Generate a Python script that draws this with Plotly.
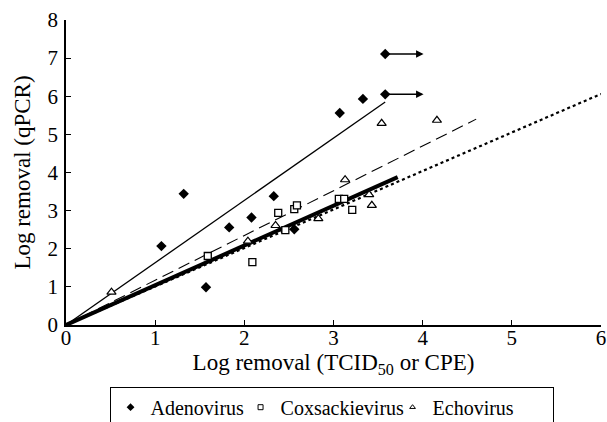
import plotly.graph_objects as go

# ---- data ----
adeno_x = [1.07, 1.32, 1.57, 1.83, 2.08, 2.33, 2.56, 3.07, 3.33, 3.58, 3.58]
adeno_y = [2.07, 3.44, 0.99, 2.56, 2.82, 3.38, 2.51, 5.56, 5.93, 6.05, 7.11]

coxs_x = [1.59, 2.09, 2.38, 2.46, 2.56, 2.59, 3.06, 3.12, 3.21]
coxs_y = [1.81, 1.65, 2.94, 2.49, 3.04, 3.14, 3.31, 3.31, 3.02]

echo_x = [0.51, 2.04, 2.35, 2.83, 3.13, 3.40, 3.43, 3.54, 4.16]
echo_y = [0.86, 2.20, 2.61, 2.79, 3.81, 3.42, 3.14, 5.29, 5.37]

# censored adenovirus points (arrows: lower bound of TCID50 removal)
arrow_from_x = [3.58, 3.58]
arrow_to_x = [4.01, 4.01]
arrow_y = [6.05, 7.11]

# regression lines (endpoints)
fit_thin_x = [0, 3.58]
fit_thin_y = [0, 5.85]
fit_dash_x = [0, 4.60]
fit_dash_y = [0, 5.40]
fit_thick_x = [0, 3.72]
fit_thick_y = [0, 3.88]
fit_dot_x = [0, 6.0]
fit_dot_y = [0, 6.06]

x_ticks = [0, 1, 2, 3, 4, 5, 6]
y_ticks = [0, 1, 2, 3, 4, 5, 6, 7, 8]

legend_names = ["Adenovirus", "Coxsackievirus", "Echovirus"]

FONT = "Liberation Serif"

fig = go.Figure()

# fitted lines
fig.add_trace(go.Scatter(x=fit_dot_x, y=fit_dot_y, mode="lines",
                         line=dict(color="black", width=2.2, dash="dot"),
                         showlegend=False, hoverinfo="skip"))
fig.add_trace(go.Scatter(x=fit_dash_x, y=fit_dash_y, mode="lines",
                         line=dict(color="black", width=1.1, dash="12px,6px"),
                         showlegend=False, hoverinfo="skip"))
fig.add_trace(go.Scatter(x=fit_thick_x, y=fit_thick_y, mode="lines",
                         line=dict(color="black", width=4),
                         showlegend=False, hoverinfo="skip"))
fig.add_trace(go.Scatter(x=fit_thin_x, y=fit_thin_y, mode="lines",
                         line=dict(color="black", width=1.3),
                         showlegend=False, hoverinfo="skip"))

# data points
fig.add_trace(go.Scatter(x=coxs_x, y=coxs_y, mode="markers", name=legend_names[1],
                         marker=dict(symbol="square", size=7, color="white",
                                     line=dict(color="black", width=1.3)),
                         showlegend=False))
fig.add_trace(go.Scatter(x=echo_x, y=echo_y, mode="markers", name=legend_names[2],
                         marker=dict(symbol="triangle-up", size=8, color="white",
                                     line=dict(color="black", width=1.2)),
                         showlegend=False))
fig.add_trace(go.Scatter(x=adeno_x, y=adeno_y, mode="markers", name=legend_names[0],
                         marker=dict(symbol="diamond", size=8, color="black"),
                         showlegend=False))

# legend-only entries with small symbols
fig.add_trace(go.Scatter(x=[None], y=[None], mode="markers", name=legend_names[0],
                         legendwidth=85,
                         marker=dict(symbol="diamond", size=6, color="black")))
fig.add_trace(go.Scatter(x=[None], y=[None], mode="markers", name=legend_names[1],
                         legendwidth=107,
                         marker=dict(symbol="square", size=5, color="white",
                                     line=dict(color="black", width=1))))
fig.add_trace(go.Scatter(x=[None], y=[None], mode="markers", name=legend_names[2],
                         legendwidth=115,
                         marker=dict(symbol="triangle-up", size=5, color="white",
                                     line=dict(color="black", width=1))))

for x0, x1, yy in zip(arrow_from_x, arrow_to_x, arrow_y):
    fig.add_annotation(x=x1, y=yy, ax=x0, ay=yy, xref="x", yref="y",
                       axref="x", ayref="y", showarrow=True, arrowhead=2,
                       arrowsize=1, arrowwidth=1.5, arrowcolor="black", text="")

axis_common = dict(showgrid=False, zeroline=False, showline=True,
                   linecolor="black", linewidth=1.5, ticks="inside",
                   ticklen=5, tickwidth=1.3, tickcolor="black",
                   tickfont=dict(family=FONT, size=21, color="black"),
                   mirror=False, automargin=False)

fig.update_layout(
    width=607, height=422,
    margin=dict(l=66, r=6, t=20, b=97, autoexpand=False),
    paper_bgcolor="white", plot_bgcolor="white",
    font=dict(family=FONT, color="black"),
    xaxis=dict(range=[0, 6], tickvals=x_ticks, ticklabelstandoff=-7,
               title=dict(text="Log removal (TCID<sub>50</sub> or CPE)",
                          font=dict(family=FONT, size=23), standoff=3),
               **axis_common),
    yaxis=dict(range=[0, 8], tickvals=y_ticks, ticklabelstandoff=2,
               title=dict(text="Log removal (qPCR)",
                          font=dict(family=FONT, size=23), standoff=10),
               **axis_common),
    legend=dict(orientation="h", x=0.0814, xanchor="left", y=-0.2023, yanchor="top",
                bordercolor="black", borderwidth=1, bgcolor="white",
                font=dict(family=FONT, size=20, color="black"),
                itemwidth=30, tracegroupgap=0, entrywidthmode="pixels"),
    showlegend=True,
)

fig.write_html("out.html",
               config={"displayModeBar": False},
               post_script="document.body.style.margin='0';document.body.style.overflow='hidden';")
